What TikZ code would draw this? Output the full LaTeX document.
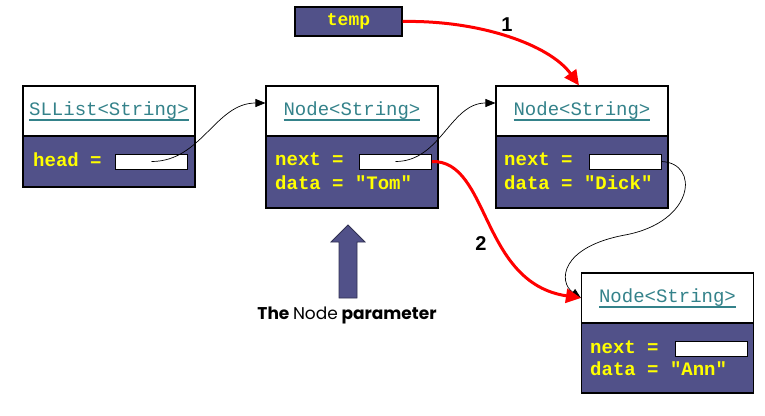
\documentclass[tikz,border=0pt]{standalone}
\usepackage{fontspec}
\setmainfont{Liberation Sans}
\setmonofont{Liberation Mono}
\newfontfamily\capfont{Poppins}
\usetikzlibrary{arrows.meta}
\definecolor{objblue}{RGB}{81,81,137}
\definecolor{titleteal}{RGB}{52,130,138}
\definecolor{fieldyellow}{RGB}{255,255,0}
\definecolor{linkred}{RGB}{255,0,0}
\newcommand{\ulined}[1]{\setbox0\hbox{#1}\rlap{\smash{\rule[-5pt]{\wd0}{1.8pt}}}\box0}

\begin{document}
\begin{tikzpicture}[x=1pt,y=-1pt,
  hdr/.style={draw,line width=1.1pt,fill=white,minimum width=172pt,
              minimum height=50pt,inner sep=0pt,text=titleteal,
              font=\ttfamily\fontsize{19}{22}\selectfont},
  body/.style={draw,line width=1.1pt,fill=objblue,minimum width=172pt,inner sep=0pt},
  fld/.style={draw,line width=0.9pt,fill=white,minimum width=72pt,
              minimum height=15pt,inner sep=0pt},
  txt/.style={anchor=base west,inner sep=0pt,text=fieldyellow,
              font=\ttfamily\bfseries\fontsize{19}{22}\selectfont},
  ptr/.style={-{Triangle[length=10pt,width=8pt]},line width=0.7pt},
  redarr/.style={-{Triangle[length=15pt,width=14pt]},line width=3pt,linkred},
  num/.style={font=\bfseries\fontsize{20}{22}\selectfont}]

  \useasboundingbox (0,0) rectangle (765,415);

  % the list object
  \node[hdr] (lst) at (109,111) {\ulined{SLList<String>}};
  \node[body,minimum height=51pt] (lstb) at (109,161.5) {};
  \node[txt] (lsth) at (33,166) {head =};
  \node[fld] (f0) at (151.5,161.5) {};

  % first node
  \node[hdr] (n1) at (352,111) {\ulined{Node<String>}};
  \node[body,minimum height=72pt] (n1b) at (352,172) {};
  \node[txt] (n1n) at (275,165) {next =};
  \node[txt] (n1d) at (275,189) {data = "Tom"};
  \node[fld] (f1) at (395.5,161.5) {};

  % second node
  \node[hdr] (n2) at (582,111) {\ulined{Node<String>}};
  \node[body,minimum height=72pt] (n2b) at (582,172) {};
  \node[txt] (n2n) at (504,165) {next =};
  \node[txt] (n2d) at (504,189) {data = "Dick"};
  \node[fld] (f2) at (625,161.5) {};

  % new node
  \node[hdr] (n3) at (667.5,298) {\ulined{Node<String>}};
  \node[body,minimum height=70pt] (n3b) at (667.5,358) {};
  \node[txt] (n3n) at (590,353) {next =};
  \node[txt] (n3d) at (590,375) {data = "Ann"};
  \node[fld] (f3) at (711,348.5) {};

  \node[draw,line width=1.1pt,fill=objblue,minimum width=107pt,minimum height=29pt,
        inner sep=0pt,text=fieldyellow,
        font=\ttfamily\bfseries\fontsize{18}{20}\selectfont] (temp) at (348.5,21.5) {temp};

  % links
  \draw[ptr] (f0.center) to[out=0,in=180] ([yshift=8pt]n1.west);
  \draw[ptr] (f1.center) to[out=0,in=180] ([yshift=8pt]n2.west);
  \draw[ptr] (f2.east) .. controls (700,163) and (695,222) .. (625,235)
                       .. controls (560,247) and (558,282) .. (n3.west);

  \draw[redarr] (temp.east) .. controls (480,20) and (550,45) .. ([xshift=-3pt]n2.north);
  \draw[redarr] (f1.east) .. controls (490,160) and (480,283) .. (n3.west);
  \node[num] (one) at (507,25) {1};
  \node[num] (two) at (481,244) {2};

  % pointer to the parameter
  \draw[fill=objblue,draw=objblue!60!black,line width=0.8pt]
    (339,298) -- (339,242) -- (331,242) -- (348,225) -- (365,242)
    -- (357,242) -- (357,298) -- cycle;
  \node[font=\capfont\bfseries\fontsize{17}{20}\selectfont] (cap) at (347,315)
    {The {\mdseries Node} parameter};
\end{tikzpicture}
\end{document}
